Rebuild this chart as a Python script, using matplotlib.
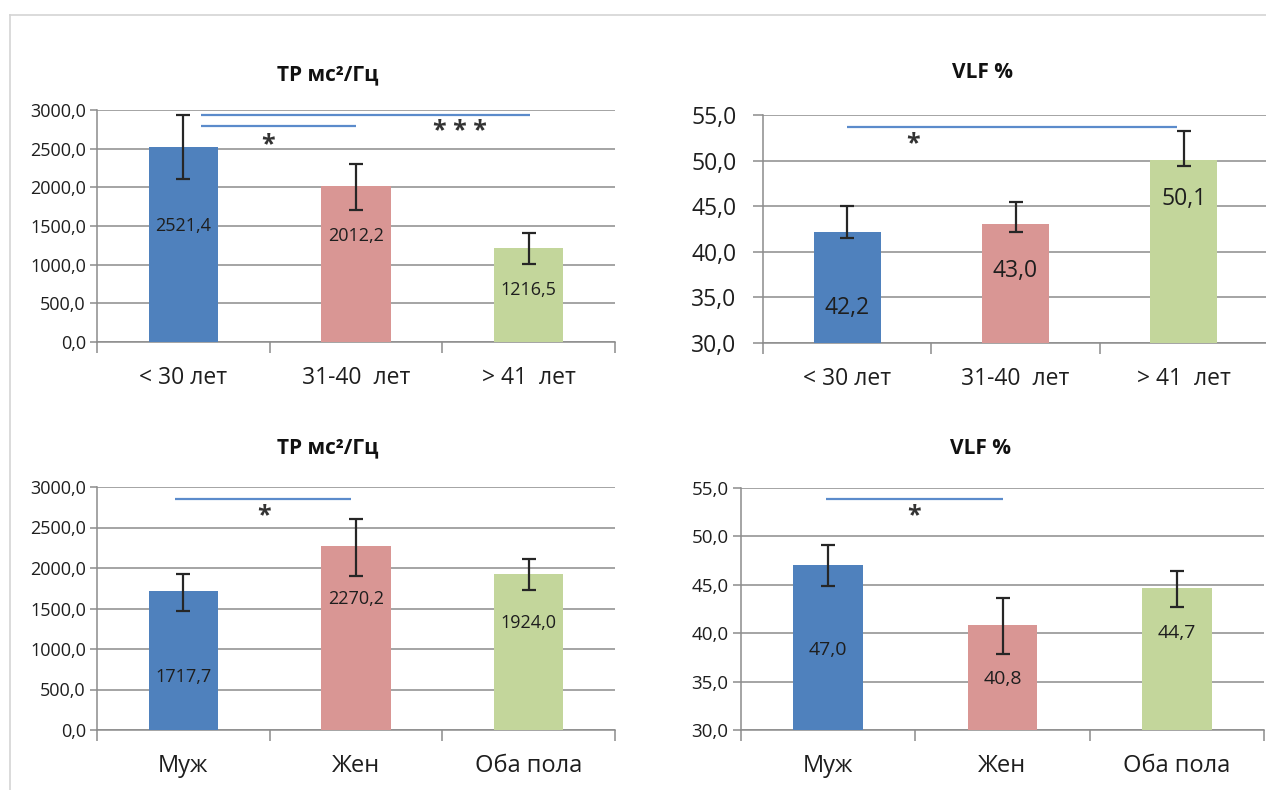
import numpy as np
import matplotlib
matplotlib.use("Agg")
import matplotlib.pyplot as plt
from matplotlib.lines import Line2D

plt.rcParams['font.family'] = ['Open Sans', 'DejaVu Sans']

W, H = 1266, 790

# ---- data ----
age_groups = ["< 30 лет", "31-40  лет", "> 41  лет"]
sex_groups = ["Муж", "Жен", "Оба пола"]

tp_age = [2521.4, 2012.2, 1216.5]
tp_age_err_lo = [410, 300, 210]
tp_age_err_hi = [414, 294, 193]

vlf_age = [42.2, 43.0, 50.1]
vlf_age_err_lo = [0.7, 0.8, 0.7]
vlf_age_err_hi = [2.85, 2.5, 3.2]

tp_sex = [1717.7, 2270.2, 1924.0]
tp_sex_err_lo = [245, 370, 200]
tp_sex_err_hi = [205, 330, 185]

vlf_sex = [47.0, 40.8, 44.7]
vlf_sex_err_lo = [2.1, 2.9, 2.0]
vlf_sex_err_hi = [2.1, 2.8, 1.7]

tp_ticks = [0, 500, 1000, 1500, 2000, 2500, 3000]
vlf_ticks = [30, 35, 40, 45, 50, 55]

tp_title = "TP мс²/Гц"
vlf_title = "VLF %"

# ---- styling ----
bar_colors = ['#4f81bd', '#d99694', '#c3d69b']
grid_col = '#8c8c8c'
sig_col = '#5b8bcb'
text_col = '#1e1e1e'


def comma(v):
    return f"{v:.1f}".replace('.', ',')


def px_rect(left, right, top, bottom):
    return [left / W, 1 - bottom / H, (right - left) / W, (bottom - top) / H]


fig = plt.figure(figsize=(W / 100, H / 100), dpi=100)
fig.patch.set_facecolor('white')

# thin page frame
fig.add_artist(Line2D([10 / W, 1], [1 - 15 / H, 1 - 15 / H], color='#d4d4d4', lw=1.2))
fig.add_artist(Line2D([10 / W, 10 / W], [0, 1 - 15 / H], color='#d4d4d4', lw=1.2))


def panel(rect, cats, vals, lo, hi, ticks, title, title_xy, label_y, label_fs,
          ytick_fs, ytick_pad, ytick_len, sig_lines, stars, cat_fs=16.5):
    ax = fig.add_axes(rect)
    x = np.arange(len(cats))
    ax.bar(x, vals, width=0.4, color=bar_colors, zorder=3)
    ax.errorbar(x, vals, yerr=[lo, hi], fmt='none', ecolor='#262626',
                elinewidth=1.6, capsize=5, capthick=1.6, zorder=4)
    ax.set_xlim(-0.5, 2.5)
    ax.set_ylim(ticks[0], ticks[-1])
    ax.set_yticks(ticks)
    ax.set_yticklabels([comma(t) for t in ticks])
    ax.yaxis.grid(True, color=grid_col, lw=1.1, zorder=0)
    ax.set_axisbelow(True)
    for s in ('top', 'right'):
        ax.spines[s].set_visible(False)
    for s in ('left', 'bottom'):
        ax.spines[s].set_color(grid_col)
        ax.spines[s].set_linewidth(1.1)
    ax.set_xticks(x)
    ax.set_xticklabels(cats, fontsize=cat_fs, color=text_col)
    ax.tick_params(axis='x', which='major', length=0, pad=17)
    ax.set_xticks([-0.5, 0.5, 1.5, 2.5], minor=True)
    ax.tick_params(axis='x', which='minor', length=8, color=grid_col, width=1.1)
    ax.tick_params(axis='y', length=ytick_len, color=grid_col, width=1.1,
                   labelsize=ytick_fs, pad=ytick_pad, labelcolor=text_col)

    for xi, v, ly in zip(x, vals, label_y):
        ax.text(xi, ly, comma(v), ha='center', va='center', fontsize=label_fs,
                color=text_col, zorder=5)

    for x0, x1, yv in sig_lines:
        ax.plot([x0, x1], [yv, yv], color=sig_col, lw=1.6, zorder=5,
                solid_capstyle='butt', clip_on=False)
    for s, sx, sy in stars:
        ax.text(sx, sy, s, ha='center', va='center', fontsize=18,
                fontweight='bold', color='#333333', zorder=6)

    fig.text(title_xy[0] / W, 1 - title_xy[1] / H, title, ha='center',
             va='center', fontsize=15, fontweight='bold', color='#111111')
    return ax


# TP by age
panel(px_rect(97, 615, 110, 342), age_groups, tp_age, tp_age_err_lo, tp_age_err_hi,
      tp_ticks, tp_title, (328, 75), [1496, 1366, 672], 13,
      13, 3, 5,
      [(0.10, 2.01, 2935), (0.10, 1.0, 2792)],
      [("*", 0.49, 2550), ("* * *", 1.6, 2720)])

# VLF by age
panel(px_rect(763, 1268, 115, 343), age_groups, vlf_age, vlf_age_err_lo, vlf_age_err_hi,
      vlf_ticks, vlf_title, (982, 72), [33.8, 37.9, 45.8], 16.5,
      16.5, 12, 7,
      [(0.0, 1.96, 53.65)],
      [("*", 0.39, 51.9)])

# TP by sex
panel(px_rect(97, 615, 487, 730), sex_groups, tp_sex, tp_sex_err_lo, tp_sex_err_hi,
      tp_ticks, tp_title, (328, 448), [659, 1615, 1327], 13,
      13, 3, 5,
      [(-0.05, 0.97, 2856)],
      [("*", 0.47, 2640)], cat_fs=17)

# VLF by sex
panel(px_rect(741, 1264, 488, 730), sex_groups, vlf_sex, vlf_sex_err_lo, vlf_sex_err_hi,
      vlf_ticks, vlf_title, (981, 448), [38.3, 35.3, 40.0], 14,
      13.5, 3, 6,
      [(-0.01, 1.0, 53.9)],
      [("*", 0.49, 52.1)], cat_fs=17)

fig.savefig("out.png", dpi=100, facecolor='white')
